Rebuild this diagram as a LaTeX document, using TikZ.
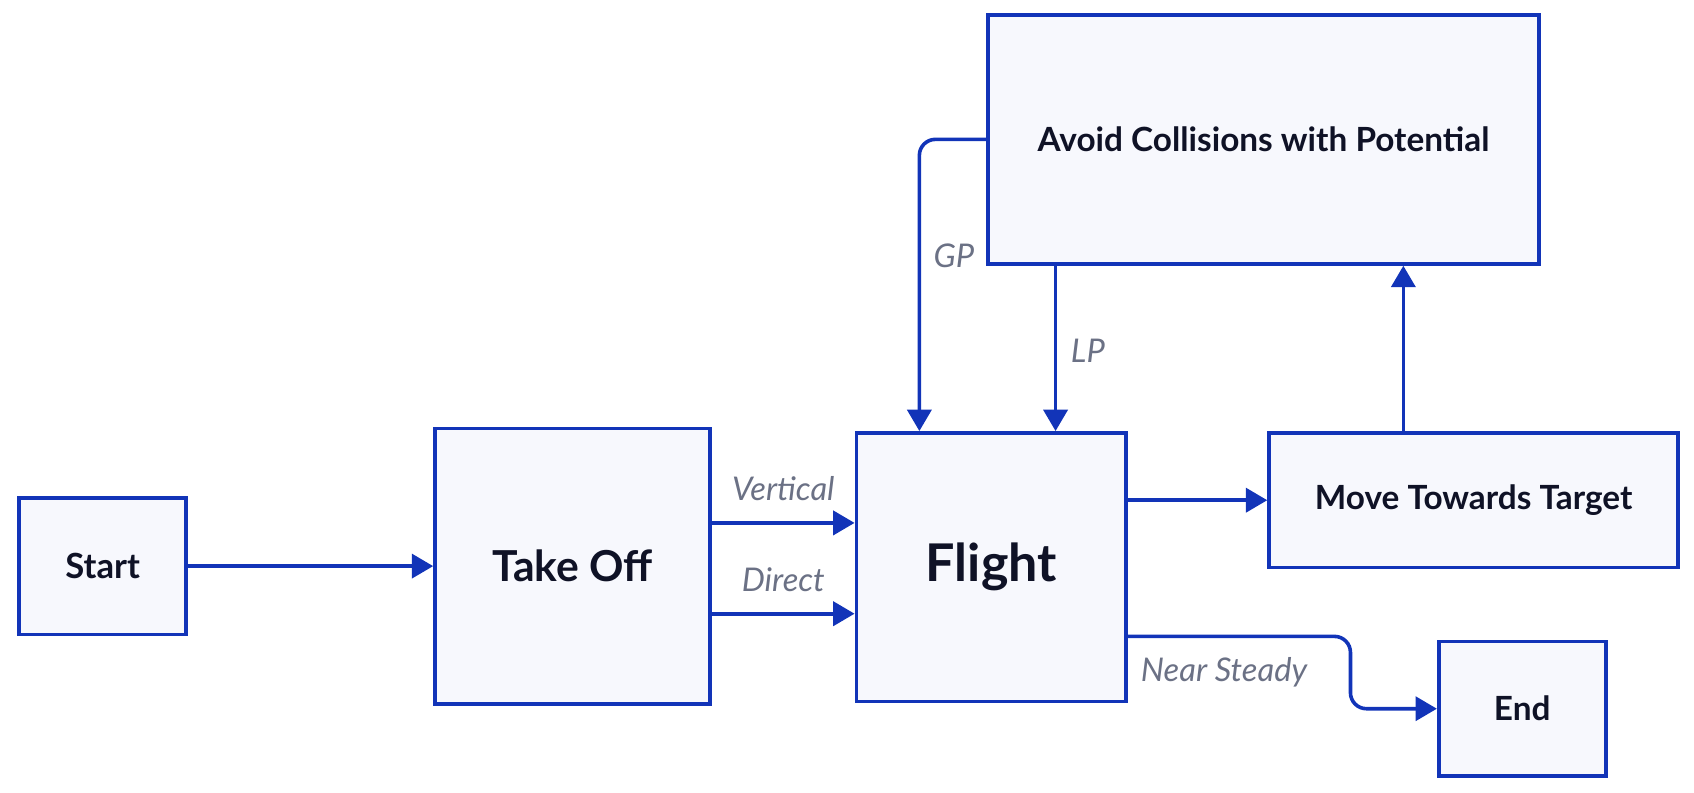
\documentclass[tikz,border=0pt]{standalone}
\usepackage{fontspec}
\setmainfont{Lato}
\usetikzlibrary{arrows.meta}
\definecolor{edgeblue}{RGB}{18,52,184}
\definecolor{boxfill}{RGB}{247,248,253}
\definecolor{txtdark}{RGB}{15,18,38}
\definecolor{lblgrey}{RGB}{107,113,133}
\tikzset{
  state/.style={draw=edgeblue, fill=boxfill, line width=2.7pt, text=txtdark,
    font=\bfseries, align=center, inner sep=0pt},
  arr/.style={draw=edgeblue, line width=2.7pt,
    -{Triangle[length=16pt,width=18pt]}},
  lbl/.style={text=lblgrey, font=\itshape\fontsize{24.5}{29}\selectfont, inner sep=0pt}
}
\begin{document}
\begin{tikzpicture}[x=0.8103pt,y=0.8103pt,yscale=-1,xscale=1]
\useasboundingbox (0,0) rectangle (1568,734);

% states
\node [state, minimum width=125.3pt, minimum height=102.6pt, font=\bfseries\fontsize{26}{31}\selectfont] (start) at (95,524) {Start};
\node [state, minimum width=206.4pt, minimum height=206.4pt, font=\bfseries\fontsize{32}{38}\selectfont] (takeoff) at (530,524) {Take Off};
\node [state, minimum width=202.3pt, minimum height=201.5pt, font=\bfseries\fontsize{39}{46}\selectfont] (flight) at (917.5,525) {Flight};
\node [state, minimum width=306.8pt, minimum height=101pt, font=\bfseries\fontsize{25}{30}\selectfont] (move) at (1364,463) {Move Towards Target};
\node [state, minimum width=413pt, minimum height=186.9pt, font=\bfseries\fontsize{25}{30}\selectfont] (avoid) at (1169.5,129) {Avoid Collisions with Potential};
\node [state, minimum width=125.3pt, minimum height=101pt, font=\bfseries\fontsize{25}{30}\selectfont] (end) at (1409,656) {End};

% transitions
\draw [arr] (start.east) -- (takeoff.west);
\draw [arr] ([yshift=-32.4pt]takeoff.east) -- ([yshift=-32.4pt]takeoff.east -| flight.west);
\draw [arr] ([yshift=35.7pt]takeoff.east) -- ([yshift=35.7pt]takeoff.east -| flight.west);
\draw [arr] (move.west -| flight.east) -- (move.west);
\draw [arr] ([xshift=-52.7pt]move.north) -- ([xshift=-52.7pt]move.north |- avoid.south);
\draw [arr, rounded corners=12pt] (avoid.west) -| ([xshift=48.6pt]flight.north west);
\draw [arr] ([xshift=51.9pt]avoid.south west) -- ([xshift=51.9pt]avoid.south west |- flight.north);
\draw [arr, rounded corners=12pt] ([yshift=51.9pt]flight.east) -- ++(206,0) |- (end.west);

% labels
\node [lbl] (vertical) at (725,452) {Vertical};
\node [lbl] (direct) at (725,537) {Direct};
\node [lbl] (gp) at (883,237) {GP};
\node [lbl] (lp) at (1007,325) {LP};
\node [lbl] (steady) at (1133,622) {Near Steady};

\end{tikzpicture}
\end{document}
